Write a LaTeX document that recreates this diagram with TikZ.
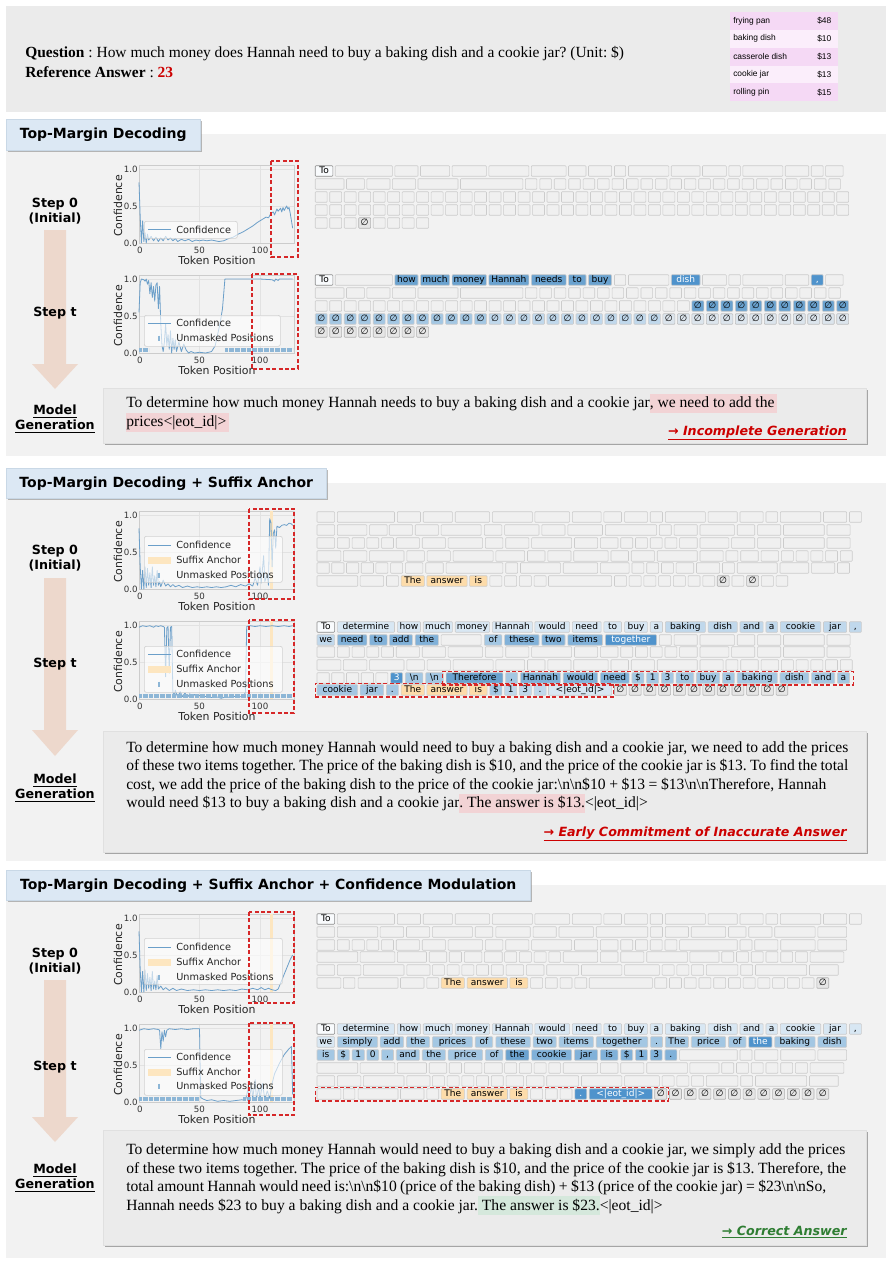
\documentclass[tikz,border=0pt]{standalone}
\usepackage{fontspec}
\setmainfont{Liberation Serif}
\newfontfamily\dvs{DejaVu Sans}
\newfontfamily\lsans{Liberation Sans}
\usetikzlibrary{fit,shadows}
\frenchspacing
\definecolor{topbg}{HTML}{EBEBEB}
\definecolor{panelbg}{HTML}{F2F2F2}
\definecolor{tabc}{HTML}{DCE8F4}
\definecolor{tabd}{HTML}{C9D8E6}
\definecolor{genbg}{HTML}{EBEBEB}
\definecolor{arrowc}{HTML}{EDD8CC}
\definecolor{hlred}{HTML}{F2D3D5}
\definecolor{hlgreen}{HTML}{D5E8DC}
\definecolor{redc}{HTML}{CC0000}
\definecolor{greenc}{HTML}{2E7D32}
\definecolor{curvec}{HTML}{6B9FC9}
\definecolor{rugc}{HTML}{8DB6D6}
\definecolor{anchorc}{HTML}{FDE6C0}
\definecolor{dashred}{HTML}{D62728}
\definecolor{pkA}{HTML}{F5D9F5}
\definecolor{pkB}{HTML}{FBEEFB}
\definecolor{tokE}{HTML}{F0F0F0}
\definecolor{tokEd}{HTML}{CCCCCC}
\definecolor{tokW}{HTML}{F9FBFD}
\definecolor{tokL1}{HTML}{D8E7F3}
\definecolor{tokL2}{HTML}{C0D8EC}
\definecolor{tokL3}{HTML}{A3C7E3}
\definecolor{tokL4}{HTML}{80B1D9}
\definecolor{tokD}{HTML}{6AA2CF}
\definecolor{tokDW}{HTML}{4F93CC}
\definecolor{tokO}{HTML}{FDDCAA}
\definecolor{tokN}{HTML}{E6E6E6}
\definecolor{tokN2}{HTML}{DCE5ED}
\definecolor{gridc}{HTML}{E2E2E2}
\definecolor{framec}{HTML}{CCCCCC}
\newcommand\cma{,}
\newcommand\hlr[1]{{\fboxsep=0pt\colorbox{hlred}{\rule[-4pt]{0pt}{14.5pt}#1}}}
\newcommand\hlg[1]{{\fboxsep=0pt\colorbox{hlgreen}{\rule[-4pt]{0pt}{14.5pt}#1}}}
\newcommand\fitw[2]{\makebox[#1pt][s]{#2}}
\tikzset{
 tok/.style={draw, rounded corners=0.6pt, line width=0.45pt, inner xsep=0.5pt, inner ysep=0pt,
   minimum height=7.9pt, text height=5pt, text depth=1.4pt, font=\dvs\fontsize{6.8}{7.5}\selectfont},
 tE/.style={fill=tokE, draw=tokEd},
 tW/.style={fill=tokW, draw=black!45},
 tL1/.style={fill=tokL1, draw=tokEd},
 tL2/.style={fill=tokL2, draw=tokEd},
 tL3/.style={fill=tokL3, draw=tokEd},
 tL4/.style={fill=tokL4, draw=tokEd},
 tD/.style={fill=tokD, draw=tokEd},
 tDW/.style={fill=tokDW, draw=tokEd, text=white},
 tO/.style={fill=tokO, draw=tokEd},
 tN/.style={fill=tokN, draw=black!30},
 tN2/.style={fill=tokN2, draw=black!25},
 reddash/.style={draw=dashred, dash pattern=on 3pt off 1.8pt, line width=0.9pt},
 tabbox/.style={fill=tabc, draw=tabd, inner sep=0pt, font=\dvs\bfseries\fontsize{10.5}{12}\selectfont,
   drop shadow={shadow xshift=1.5pt,shadow yshift=-1.5pt,fill=black!45,opacity=0.6}},
 genbox/.style={fill=genbg, draw=black!12, inner sep=0pt,
   drop shadow={shadow xshift=1.5pt,shadow yshift=-1.5pt,fill=black!55,opacity=0.6}},
 gent/.style={anchor=base west, inner sep=0pt, font=\fontsize{11.7}{13.5}\selectfont},
 qtext/.style={anchor=base west, inner sep=0pt, font=\fontsize{11.6}{13}\selectfont},
 steplab/.style={align=center, inner sep=0pt, font=\dvs\bfseries\fontsize{9.5}{11.3}\selectfont},
 reslab/.style={anchor=base east, inner sep=0pt, font=\dvs\bfseries\itshape\fontsize{9.5}{11}\selectfont},
 tabtext/.style={inner sep=0pt, font=\lsans\fontsize{6.3}{7}\selectfont},
 tick/.style={inner sep=0pt, text=black!80, font=\dvs\fontsize{6.5}{7}\selectfont},
 axl/.style={inner sep=0pt, text=black!85, font=\dvs\fontsize{8.2}{9}\selectfont},
 lgtext/.style={anchor=west, inner sep=0pt, text=black!85, font=\dvs\fontsize{7.3}{8}\selectfont},
 lgbox/.style={anchor=north west, draw=black!18, fill=white, fill opacity=0.6, rounded corners=1.5pt, line width=0.5pt, inner sep=0pt},
 curve/.style={draw=curvec, line width=0.6pt, line join=round},
 rug/.style={draw=rugc, line width=3pt, dash pattern=on 0.4pt off 0.5075pt},
 gridl/.style={draw=gridc, line width=0.5pt},
 framel/.style={draw=framec, line width=0.6pt},
}
\newcommand\tokrow[3]{\foreach \a/\b/\l/\s [count=\i] in {#3} {%
  \node[tok,\s,minimum width={(\b-\a)*0.2631pt}] (#1-\i) at ({310+(\a+\b)/5.702},#2) {\l};}}
\newcommand\unirow[9]{\foreach \k in {#6,...,#7} {%
  \node[tok,#8,minimum width={#5*0.2631pt}] (#1-\k) at ({310+(#3+#4*(\k-1)+#5/2)/2.851},#2) {#9};}}
\newcommand\plotaxes[2]{%
  \draw[gridl] (199.5,#2) -- (199.5,#2-78) (260,#2) -- (260,#2-78) (139,#2-37) -- (294,#2-37) (139,#2-74) -- (294,#2-74);
  \draw[framel] (139,#2-78) rectangle (294,#2);
  \node[tick,anchor=east] (#1-y0) at (138,#2) {0.0};
  \node[tick,anchor=east] (#1-y5) at (138,#2-37) {0.5};
  \node[tick,anchor=east] (#1-y1) at (138,#2-74) {1.0};
  \node[tick] (#1-x0) at (140,#2+7) {0};
  \node[tick] (#1-x50) at (199.5,#2+7) {50};
  \node[tick] (#1-x100) at (260,#2+7) {100};
  \node[axl,rotate=90] (#1-yl) at (118,#2-37) {Confidence};
  \node[axl] (#1-xl) at (217,#2+17) {Token Position};}
\newcommand\lgline[3]{\draw[curve] (148,#2) -- (171,#2); \node[lgtext] (#1) at (176,#2) {#3};}
\newcommand\lgband[3]{\fill[anchorc] (148,#2-3.5) rectangle (171,#2+3.5); \node[lgtext] (#1) at (176,#2) {#3};}
\newcommand\lgrug[3]{\draw[rugc,line width=0.8pt] (159,#2-2.5) -- (159,#2+2.5); \node[lgtext] (#1) at (176,#2) {#3};}
\begin{document}
\begin{tikzpicture}[x=0.75pt,y=-0.75pt]
\useasboundingbox (0,0) rectangle (892,1265);
\fill[white] (0,0) rectangle (892,1265);
% ---------------- top question panel
\fill[topbg] (6,6) rectangle (886,112);
\node[qtext] (q1) at (25,57) {\textbf{Question} : How much money does Hannah need to buy a baking dish and a cookie jar? (Unit: \$)};
\node[qtext] (q2) at (25,77) {\textbf{Reference Answer} : \textcolor{redc}{\textbf{23}}};
\foreach \nm/\pr/\cl [count=\i] in {frying pan/\$48/pkA, baking dish/\$10/pkB, casserole dish/\$13/pkA, cookie jar/\$13/pkB, rolling pin/\$15/pkA} {
  \node[fill=\cl, minimum width=81pt, minimum height=13.35pt, inner sep=0pt, anchor=north west] (tb\i) at (730,{12+17.8*(\i-1)}) {};
  \node[tabtext,anchor=west] (tbn\i) at (733,{21+17.8*(\i-1)}) {\nm};
  \node[tabtext,anchor=west] (tbp\i) at (817,{21+17.8*(\i-1)}) {\pr};
}
% ================= SECTION 1
\fill[panelbg] (6,134) rectangle (886,456);
\node[tabbox, minimum width=145.5pt, minimum height=23.25pt, anchor=north west] (tab1) at (6,119) {Top-Margin Decoding};
\node[steplab] (s1st0) at (55,211) {Step 0\\(Initial)};
\fill[arrowc] (44,230) -- (66,230) -- (66,364) -- (78,364) -- (55,389) -- (32,364) -- (44,364) -- cycle;
\node[steplab,anchor=west] (s1stt) at (33,313) {Step t};
\node[steplab] (s1mg) at (55,419) {\underline{Model}\\\underline{Generation}};
% plot 1a
\plotaxes{p1a}{243}
\begin{scope}[shift={(139,243)},x=0.9075pt,y=55.5pt]
\draw[curve] plot coordinates {(0,0.82) (1,0.35) (2,0) (3,0.3) (4,0.02) (5,0.14) (6,0) (7,0.12) (8,0.04) (10,0.09) (12,0.03) (14,0.08) (16,0.02) (18,0.07) (20,0.03) (22,0.09) (24,0.04) (26,0.07) (28,0.03) (30,0.06) (32,0.02) (35,0.05) (38,0.03) (41,0.05) (44,0.02) (47,0.04) (50,0.03) (53,0.04) (56,0.03) (60,0.04) (63,0.03) (66,0.02) (70,0.03) (74,0.06) (78,0.08) (82,0.12) (86,0.15) (90,0.19) (94,0.23) (98,0.28) (102,0.32) (105,0.35) (107,0.34) (109,0.4) (111,0.42) (112,0.38) (114,0.46) (115,0.43) (117,0.47) (118,0.42) (119,0.48) (120,0.44) (122,0.5) (123,0.46) (124,0.48) (125,0.4) (126,0.3) (127,0.2)};
\end{scope}
\node[lgbox, minimum width=69.75pt, minimum height=12.75pt] (p1a-lg) at (144,221) {};
\lgline{p1a-l1}{229.5}{Confidence}
\draw[reddash] (271,161) rectangle (298,257);
% plot 1b
\plotaxes{p1b}{353}
\begin{scope}[shift={(139,353)},x=0.9075pt,y=55.5pt]
\draw[curve] plot coordinates {(0,0.55) (1,0.95) (2,1.0) (4,0.99) (5,0.97) (6,1.0) (7,0.93) (8,0.98) (9,0.8) (10,0.95) (11,0.75) (12,0.9) (13,0.7) (14,0.92) (15,0.95) (16,0.6) (17,0.9) (18,0.4) (19,0.1) (20,0.02) (21,0.15) (22,0.4) (23,0.1) (24,0.25) (25,0.05) (26,0.3) (27,0.0) (28,0.2) (29,0.05) (30,0.18) (31,0.02) (33,0.15) (35,0.02) (37,0.12) (39,0.04) (41,0.0) (43,0.02) (46,0.0) (50,0.01) (55,0.0) (60,0.02) (63,0.1) (65,0.25) (67,0.4) (69,0.6) (70,0.8) (71,1.0) (80,1.0) (90,1.0) (100,1.0) (110,0.99) (112,0.97) (113,1.0) (115,0.98) (116,1.0) (127,1.0)};
\draw[rug] (0,0.035) -- (8,0.035) (71,0.035) -- (127,0.035);
\end{scope}
\node[lgbox, minimum width=102pt, minimum height=23.25pt] (p1b-lg) at (144,315) {};
\lgline{p1b-l1}{323}{Confidence}
\lgrug{p1b-l2}{338}{Unmasked Positions}
\draw[reddash] (252,274) rectangle (298,369);
% grid 1a (step 0)
\tokrow{s1a1}{171}{15/65/To/tW, 72/235/{}/tE, 242/308/{}/tE, 315/398/{}/tE, 405/503/{}/tE, 510/624/{}/tE, 631/730/{}/tE, 737/787/{}/tE, 794/860/{}/tE, 868/900/{}/tE, 908/1023/{}/tE, 1030/1112/{}/tE, 1119/1187/{}/tE, 1194/1227/{}/tE, 1234/1348/{}/tE, 1355/1422/{}/tE, 1429/1463/{}/tE, 1470/1520/{}/tE}
\tokrow{s1a2}{184}{15/97/{}/tE, 104/155/{}/tE, 162/228/{}/tE, 235/301/{}/tE, 308/422/{}/tE, 429/607/{}/tE}
\unirow{s1a2u}{184}{614}{41.2}{33}{1}{22}{tE}{}
\unirow{s1a3}{197}{15}{41.3}{34}{1}{37}{tE}{}
\unirow{s1a4}{210}{15}{41.3}{34}{1}{37}{tE}{}
\unirow{s1a5}{223}{15}{41.3}{34}{1}{3}{tE}{}
\unirow{s1a5}{223}{15}{41.3}{34}{4}{4}{tN}{∅}
\unirow{s1a5}{223}{15}{41.3}{34}{5}{8}{tE}{}
% grid 1b (step t)
\tokrow{s1b1}{280}{15/65/To/tW, 72/235/{}/tE, 242/308/how/tD, 315/398/much/tD, 405/503/money/tD, 510/624/Hannah/tD, 631/730/needs/tD, 737/787/to/tD, 794/860/buy/tD, 868/900/{}/tE, 908/1023/{}/tE, 1030/1112/dish/tDW, 1119/1187/{}/tE, 1194/1227/{}/tE, 1234/1348/{}/tE, 1355/1422/{}/tE, 1429/1463/\cma/tDW, 1470/1520/{}/tE}
\tokrow{s1b2}{293}{15/97/{}/tE, 104/155/{}/tE, 162/228/{}/tE, 235/301/{}/tE, 308/422/{}/tE, 429/607/{}/tE}
\unirow{s1b2u}{293}{614}{41.2}{33}{1}{22}{tE}{}
\unirow{s1b3}{306}{15}{41.3}{34}{1}{26}{tE}{}
\unirow{s1b3}{306}{15}{41.3}{34}{27}{37}{tD}{∅}
\unirow{s1b4}{319}{15}{41.3}{34}{1}{12}{tL3}{∅}
\unirow{s1b4}{319}{15}{41.3}{34}{13}{24}{tL2}{∅}
\unirow{s1b4}{319}{15}{41.3}{34}{25}{37}{tN2}{∅}
\unirow{s1b5}{332}{15}{41.3}{34}{1}{8}{tN}{∅}
% generation 1
\node[genbox, minimum width=572.25pt, minimum height=41.25pt, anchor=north west] (gen1) at (103,388) {};
\node[gent] (g1l1) at (126,407.5) {To determine how much money Hannah needs to buy a baking dish and a cookie jar\hlr{, we need to add the\,}};
\node[gent] (g1l2) at (126,426.5) {\hlr{prices<|eot\_id|>\,}};
\node[reslab,text=redc] (res1) at (847,435) {\underline{→ Incomplete Generation}};
% ================= SECTION 2
\fill[panelbg] (6,483) rectangle (886,861);
\node[tabbox, minimum width=240pt, minimum height=22.5pt, anchor=north west] (tab2) at (6,468) {Top-Margin Decoding + Suffix Anchor};
\node[steplab] (s2st0) at (55,558) {Step 0\\(Initial)};
\fill[arrowc] (44,578) -- (66,578) -- (66,730) -- (78,730) -- (55,756) -- (32,730) -- (44,730) -- cycle;
\node[steplab,anchor=west] (s2stt) at (33,664) {Step t};
\node[steplab] (s2mg) at (55,788) {\underline{Model}\\\underline{Generation}};
% plot 2a
\plotaxes{p2a}{589}
\begin{scope}[shift={(139,589)},x=0.9075pt,y=55.5pt]
\fill[anchorc] (108,0) rectangle (111,1.05);
\draw[curve] plot coordinates {(0,0.82) (1,0.3) (2,0) (3,0.25) (4,0) (5,0.3) (6,0.02) (7,0.28) (8,0.05) (9,0.22) (10,0.02) (11,0.3) (12,0.05) (13,0.18) (14,0.03) (15,0.25) (16,0.05) (17,0.1) (18,0.03) (20,0.12) (22,0.04) (24,0.07) (26,0.03) (28,0.06) (30,0.03) (33,0.05) (36,0.02) (40,0.04) (44,0.02) (48,0.03) (52,0.02) (56,0.03) (60,0.02) (64,0.03) (68,0.02) (72,0.03) (76,0.05) (80,0.03) (84,0.06) (88,0.04) (91,0.07) (94,0.04) (96,0.15) (98,0.05) (100,0.3) (101,0.08) (103,0.45) (104,0.1) (106,0.2) (107,0.05) (108,0.95) (109,0.9) (110,0.3) (111,0.75) (112,0.8) (113,0.55) (114,0.85) (116,0.83) (118,0.86) (120,0.87) (122,0.86) (124,0.89) (126,0.88) (127,0.86)};
\end{scope}
\node[lgbox, minimum width=103.5pt, minimum height=34.5pt] (p2a-lg) at (144,536) {};
\lgline{p2a-l1}{545}{Confidence}
\lgband{p2a-l2}{560}{Suffix Anchor}
\lgrug{p2a-l3}{575}{Unmasked Positions}
\draw[reddash] (249,509) rectangle (294,599);
% plot 2b
\plotaxes{p2b}{699}
\begin{scope}[shift={(139,699)},x=0.9075pt,y=55.5pt]
\fill[anchorc] (108,0) rectangle (111,1.05);
\draw[curve] plot coordinates {(0,0.97) (3,0.99) (6,0.98) (9,0.99) (12,0.97) (14,0.99) (16,0.98) (18,0.99) (20,0.98) (21,0.97) (22,0.3) (23,0.96) (24,0.98) (25,0.35) (26,0.97) (27,0.98) (28,0.1) (29,0.03) (30,0.12) (32,0.02) (34,0.1) (36,0.03) (38,0.08) (40,0.02) (42,0.07) (44,0.03) (46,0.06) (48,0.02) (50,0.05) (53,0.02) (56,0.04) (60,0.02) (64,0.03) (68,0.01) (72,0.03) (76,0.02) (80,0.04) (84,0.03) (87,0.05) (88,0.1) (89,0.98) (92,0.99) (96,0.98) (100,0.99) (105,0.98) (110,0.99) (115,0.98) (120,0.99) (124,0.98) (127,0.99)};
\draw[rug] (0,0.035) -- (127,0.035);
\end{scope}
\node[lgbox, minimum width=103.5pt, minimum height=34.5pt] (p2b-lg) at (144,646) {};
\lgline{p2b-l1}{654}{Confidence}
\lgband{p2b-l2}{669}{Suffix Anchor}
\lgrug{p2b-l3}{684}{Unmasked Positions}
\draw[reddash] (249,620) rectangle (294,713);
% grid 2a
\tokrow{s2a1}{517}{20/70/{}/tE, 78/241/{}/tE, 249/315/{}/tE, 323/406/{}/tE, 414/512/{}/tE, 520/634/{}/tE, 641/740/{}/tE, 748/830/{}/tE, 838/888/{}/tE, 897/962/{}/tE, 970/1005/{}/tE, 1013/1127/{}/tE, 1135/1218/{}/tE, 1226/1292/{}/tE, 1300/1333/{}/tE, 1341/1456/{}/tE, 1464/1530/{}/tE, 1538/1572/{}/tE}
\tokrow{s2a2}{530}{20/70/{}/tE, 78/162/{}/tE, 170/220/{}/tE, 226/292/{}/tE, 300/366/{}/tE, 374/488/{}/tE, 497/547/{}/tE, 555/653/{}/tE, 661/727/{}/tE, 735/834/{}/tE, 842/988/{}/tE, 996/1030/{}/tE, 1038/1104/{}/tE, 1112/1210/{}/tE, 1218/1268/{}/tE, 1276/1342/{}/tE, 1350/1466/{}/tE, 1474/1540/{}/tE}
\tokrow{s2a3}{543}{20/70/{}/tE, 78/112/{}/tE, 120/155/{}/tE, 162/196/{}/tE, 204/238/{}/tE, 246/312/{}/tE, 320/386/{}/tE, 394/492/{}/tE, 500/550/{}/tE, 558/624/{}/tE, 632/746/{}/tE, 754/820/{}/tE, 828/878/{}/tE, 886/920/{}/tE, 928/962/{}/tE, 970/1004/{}/tE, 1012/1046/{}/tE, 1054/1104/{}/tE, 1112/1194/{}/tE, 1202/1268/{}/tE, 1276/1342/{}/tE, 1350/1466/{}/tE, 1474/1540/{}/tE}
\tokrow{s2a4}{556}{20/88/{}/tE, 95/162/{}/tE, 170/268/{}/tE, 276/326/{}/tE, 334/400/{}/tE, 408/522/{}/tE, 530/612/{}/tE, 620/670/{}/tE, 678/744/{}/tE, 752/850/{}/tE, 858/908/{}/tE, 916/982/{}/tE, 990/1104/{}/tE, 1112/1178/{}/tE, 1186/1220/{}/tE, 1228/1278/{}/tE, 1286/1336/{}/tE, 1344/1378/{}/tE, 1386/1420/{}/tE, 1428/1462/{}/tE, 1470/1504/{}/tE, 1512/1546/{}/tE}
\tokrow{s2a5}{568}{20/55/{}/tE, 62/97/{}/tE, 104/139/{}/tE, 146/181/{}/tE, 188/222/{}/tE, 230/264/{}/tE, 272/322/{}/tE, 330/380/{}/tE, 388/550/{}/tE, 558/592/{}/tE, 600/714/{}/tE, 722/820/{}/tE, 828/910/{}/tE, 918/952/{}/tE, 960/994/{}/tE, 1002/1036/{}/tE, 1044/1094/{}/tE, 1102/1168/{}/tE, 1176/1210/{}/tE, 1218/1332/{}/tE, 1340/1422/{}/tE, 1430/1496/{}/tE, 1504/1538/{}/tE}
\tokrow{s2a6}{581}{20/136/{}/tE, 143/210/{}/tE, 218/252/{}/tE, 260/326/The/tO, 333/448/answer/tO, 455/505/is/tO, 513/547/{}/tE, 555/589/{}/tE, 597/631/{}/tE, 639/673/{}/tE, 680/860/{}/tE, 868/902/{}/tE, 910/944/{}/tE, 952/986/{}/tE, 994/1028/{}/tE, 1036/1070/{}/tE, 1078/1112/{}/tE, 1120/1154/{}/tE, 1161/1195/∅/tN, 1203/1237/{}/tE, 1245/1279/∅/tN, 1287/1321/{}/tE, 1329/1362/{}/tE}
% grid 2b
\tokrow{s2b1}{627}{20/70/To/tW, 78/241/determine/tL1, 249/315/how/tL1, 323/406/much/tL1, 414/512/money/tL1, 520/634/Hannah/tL1, 641/740/would/tL1, 748/830/need/tL1, 838/888/to/tL1, 897/962/buy/tL1, 970/1005/a/tL1, 1013/1127/baking/tL2, 1135/1218/dish/tL2, 1226/1292/and/tL2, 1300/1333/a/tL2, 1341/1456/cookie/tL2, 1464/1530/jar/tL2, 1538/1572/\cma/tL2}
\tokrow{s2b2}{640}{20/70/we/tL2, 78/162/need/tL4, 170/220/to/tL4, 226/292/add/tL4, 300/366/the/tL4, 374/488/{}/tE, 497/547/of/tL3, 555/653/these/tL4, 661/727/two/tL4, 735/834/items/tL4, 842/988/together/tDW, 996/1030/{}/tE, 1038/1104/{}/tE, 1112/1210/{}/tE, 1218/1268/{}/tE, 1276/1342/{}/tE, 1350/1466/{}/tE, 1474/1540/{}/tE}
\tokrow{s2b3}{652}{20/70/{}/tE, 78/112/{}/tE, 120/155/{}/tE, 162/196/{}/tE, 204/238/{}/tE, 246/312/{}/tE, 320/386/{}/tE, 394/492/{}/tE, 500/550/{}/tE, 558/624/{}/tE, 632/746/{}/tE, 754/820/{}/tE, 828/878/{}/tE, 886/920/{}/tE, 928/962/{}/tE, 970/1004/{}/tE, 1012/1046/{}/tE, 1054/1104/{}/tE, 1112/1194/{}/tE, 1202/1268/{}/tE, 1276/1342/{}/tE, 1350/1466/{}/tE, 1474/1540/{}/tE}
\tokrow{s2b4}{665}{20/88/{}/tE, 95/162/{}/tE, 170/268/{}/tE, 276/326/{}/tE, 334/400/{}/tE, 408/522/{}/tE, 530/612/{}/tE, 620/670/{}/tE, 678/744/{}/tE, 752/850/{}/tE, 858/908/{}/tE, 916/982/{}/tE, 990/1104/{}/tE, 1112/1178/{}/tE, 1186/1220/{}/tE, 1228/1278/{}/tE, 1286/1336/{}/tE, 1344/1378/{}/tE, 1386/1420/{}/tE, 1428/1462/{}/tE, 1470/1504/{}/tE, 1512/1546/{}/tE}
\tokrow{s2b5}{678}{20/55/{}/tE, 62/97/{}/tE, 104/139/{}/tE, 146/181/{}/tE, 188/222/{}/tE, 230/264/3/tDW, 272/322/\textbackslash n/tL3, 330/380/\textbackslash n/tL3, 388/550/Therefore/tD, 558/592/\cma/tL3, 600/714/Hannah/tL4, 722/820/would/tL4, 828/910/need/tL4, 918/952/\$/tL3, 960/994/1/tL3, 1002/1036/3/tL3, 1044/1094/to/tL3, 1102/1168/buy/tL3, 1176/1210/a/tL3, 1218/1332/baking/tL3, 1340/1422/dish/tL3, 1430/1496/and/tL3, 1504/1538/a/tL3}
\tokrow{s2b6}{690}{20/136/cookie/tL3, 143/210/jar/tL3, 218/252/./tL3, 260/326/The/tO, 333/448/answer/tO, 455/505/is/tO, 513/547/\$/tL3, 555/589/1/tL2, 597/631/3/tL2, 639/673/./tL2, 680/860/<|eot\_id|>/tL1, 868/902/∅/tN, 910/944/∅/tN, 952/986/∅/tN, 994/1028/∅/tN, 1036/1070/∅/tN, 1078/1112/∅/tN, 1120/1154/∅/tN, 1161/1195/∅/tN, 1203/1237/∅/tN, 1245/1279/∅/tN, 1287/1321/∅/tN, 1329/1362/∅/tN}
\node[reddash, inner xsep=2.5pt, inner ysep=1pt, fit=(s2b5-9)(s2b5-23)] (fit2a) {};
\node[reddash, inner sep=1pt, fit=(s2b6-1)(s2b6-11)] (fit2b) {};
% generation 2
\node[genbox, minimum width=572.25pt, minimum height=90.75pt, anchor=north west] (gen2) at (103,731) {};
\node[gent] (g2l1) at (126,752) {\fitw{541.5}{To determine how much money Hannah would need to buy a baking dish and a cookie jar, we need to add the prices}};
\node[gent] (g2l2) at (126,770.6) {\fitw{541.5}{of these two items together. The price of the baking dish is \$10, and the price of the cookie jar is \$13. To find the total}};
\node[gent] (g2l3) at (126,789.2) {\fitw{525}{cost, we add the price of the baking dish to the price of the cookie jar:\textbackslash n\textbackslash n\$10 + \$13 = \$13\textbackslash n\textbackslash nTherefore, Hannah}};
\node[gent] (g2l4) at (126,807.8) {would need \$13 to buy a baking dish and a cookie jar\hlr{. The answer is \$13.}<|eot\_id|>};
\node[reslab,text=redc] (res2) at (847,836) {\underline{→ Early Commitment of Inaccurate Answer}};
% ================= SECTION 3
\fill[panelbg] (6,885) rectangle (886,1258);
\node[tabbox, minimum width=393pt, minimum height=22.5pt, anchor=north west] (tab3) at (6,870) {Top-Margin Decoding + Suffix Anchor + Confidence Modulation};
\node[steplab] (s3st0) at (55,961) {Step 0\\(Initial)};
\fill[arrowc] (44,980) -- (66,980) -- (66,1117) -- (78,1117) -- (55,1142) -- (32,1117) -- (44,1117) -- cycle;
\node[steplab,anchor=west] (s3stt) at (33,1067) {Step t};
\node[steplab] (s3mg) at (55,1178) {\underline{Model}\\\underline{Generation}};
% plot 3a
\plotaxes{p3a}{992}
\begin{scope}[shift={(139,992)},x=0.9075pt,y=55.5pt]
\fill[anchorc] (108,0) rectangle (111,1.05);
\draw[curve] plot coordinates {(0,0.82) (1,0.3) (2,0) (3,0.28) (4,0) (5,0.3) (6,0.02) (7,0.25) (8,0.05) (9,0.2) (10,0.02) (11,0.28) (12,0.04) (13,0.15) (14,0.03) (15,0.22) (16,0.04) (18,0.08) (20,0.03) (22,0.06) (25,0.02) (28,0.05) (31,0.02) (35,0.04) (40,0.02) (45,0.03) (50,0.02) (55,0.03) (60,0.02) (65,0.03) (70,0.02) (75,0.03) (80,0.02) (85,0.04) (90,0.03) (94,0.05) (98,0.03) (101,0.06) (104,0.03) (107,0.05) (110,0.03) (113,0.02) (115,0.04) (117,0.12) (119,0.2) (121,0.28) (123,0.36) (125,0.44) (127,0.5)};
\end{scope}
\node[lgbox, minimum width=103.5pt, minimum height=34.5pt] (p3a-lg) at (144,938) {};
\lgline{p3a-l1}{947}{Confidence}
\lgband{p3a-l2}{962}{Suffix Anchor}
\lgrug{p3a-l3}{977}{Unmasked Positions}
\draw[reddash] (249,912) rectangle (294,1003);
% plot 3b
\plotaxes{p3b}{1102}
\begin{scope}[shift={(139,1102)},x=0.9075pt,y=55.5pt]
\fill[anchorc] (108,0) rectangle (111,1.05);
\draw[curve] plot coordinates {(0,0.97) (4,0.99) (8,0.98) (12,0.99) (16,0.98) (17,0.97) (18,0.72) (19,0.95) (20,0.82) (21,0.97) (22,0.88) (23,0.97) (25,0.99) (30,0.98) (35,0.99) (40,0.98) (45,0.99) (50,0.99) (51,0.06) (53,0.04) (56,0.02) (60,0.03) (65,0.01) (70,0.02) (75,0.01) (80,0.02) (85,0.03) (88,0.02) (90,0.18) (91,0.03) (93,0.22) (94,0.05) (96,0.3) (97,0.04) (99,0.2) (100,0.03) (102,0.25) (104,0.04) (106,0.15) (108,0.05) (110,0.25) (112,0.38) (114,0.45) (116,0.52) (118,0.58) (120,0.64) (122,0.68) (124,0.72) (126,0.75) (127,0.1)};
\draw[rug] (0,0.035) -- (50,0.035) (86,0.035) -- (127,0.035);
\end{scope}
\node[lgbox, minimum width=103.5pt, minimum height=34.5pt] (p3b-lg) at (144,1049) {};
\lgline{p3b-l1}{1057}{Confidence}
\lgband{p3b-l2}{1072}{Suffix Anchor}
\lgrug{p3b-l3}{1086}{Unmasked Positions}
\draw[reddash] (249,1023) rectangle (294,1115);
% grid 3a
\tokrow{s3a1}{919}{20/70/To/tW, 78/241/{}/tE, 249/315/{}/tE, 323/406/{}/tE, 414/512/{}/tE, 520/634/{}/tE, 641/740/{}/tE, 748/830/{}/tE, 838/888/{}/tE, 897/962/{}/tE, 970/1005/{}/tE, 1013/1127/{}/tE, 1135/1218/{}/tE, 1226/1292/{}/tE, 1300/1333/{}/tE, 1341/1456/{}/tE, 1464/1530/{}/tE, 1538/1572/{}/tE}
\tokrow{s3a2}{932}{20/70/{}/tE, 78/193/{}/tE, 200/267/{}/tE, 275/341/{}/tE, 349/463/{}/tE, 471/521/{}/tE, 530/628/{}/tE, 636/702/{}/tE, 710/808/{}/tE, 816/963/{}/tE, 971/1005/{}/tE, 1013/1079/{}/tE, 1087/1185/{}/tE, 1193/1243/{}/tE, 1251/1317/{}/tE, 1325/1440/{}/tE, 1448/1530/{}/tE}
\tokrow{s3a3}{945}{20/70/{}/tE, 78/112/{}/tE, 120/155/{}/tE, 162/196/{}/tE, 204/238/{}/tE, 246/312/{}/tE, 320/386/{}/tE, 394/492/{}/tE, 500/550/{}/tE, 558/624/{}/tE, 632/746/{}/tE, 754/820/{}/tE, 828/878/{}/tE, 886/920/{}/tE, 928/962/{}/tE, 970/1004/{}/tE, 1012/1046/{}/tE, 1054/1218/{}/tE, 1226/1260/{}/tE, 1268/1334/{}/tE, 1342/1440/{}/tE, 1448/1530/{}/tE}
\tokrow{s3a4}{957}{20/136/{}/tE, 143/242/{}/tE, 249/332/{}/tE, 340/390/{}/tE, 397/432/{}/tE, 440/490/{}/tE, 497/548/{}/tE, 555/589/{}/tE, 597/631/{}/tE, 639/673/{}/tE, 681/714/{}/tE, 722/820/{}/tE, 828/878/{}/tE, 886/952/{}/tE, 960/1076/{}/tE, 1083/1166/{}/tE, 1174/1208/{}/tE, 1216/1250/{}/tE, 1258/1292/{}/tE, 1300/1334/{}/tE, 1342/1376/{}/tE, 1384/1418/{}/tE, 1426/1522/{}/tE}
\tokrow{s3a5}{970}{20/70/{}/tE, 78/145/{}/tE, 152/268/{}/tE, 276/342/{}/tE, 349/383/{}/tE, 391/425/{}/tE, 433/467/{}/tE, 475/509/{}/tE, 517/551/{}/tE, 559/609/{}/tE, 617/667/{}/tE, 675/766/{}/tE, 774/889/{}/tE, 897/996/{}/tE, 1004/1038/{}/tE, 1046/1080/{}/tE, 1088/1122/{}/tE, 1130/1220/{}/tE, 1228/1262/{}/tE, 1270/1416/{}/tE, 1424/1506/{}/tE}
\tokrow{s3a6}{983}{20/88/{}/tE, 95/128/{}/tE, 137/251/{}/tE, 258/325/{}/tE, 333/367/{}/tE, 374/440/The/tO, 448/563/answer/tO, 570/621/is/tO, 629/663/{}/tE, 671/705/{}/tE, 713/747/{}/tE, 755/789/{}/tE, 796/976/{}/tE, 983/1017/{}/tE, 1025/1059/{}/tE, 1067/1101/{}/tE, 1109/1143/{}/tE, 1151/1185/{}/tE, 1193/1227/{}/tE, 1235/1269/{}/tE, 1277/1311/{}/tE, 1319/1353/{}/tE, 1361/1395/{}/tE, 1403/1437/{}/tE, 1445/1479/∅/tN}
% grid 3b
\tokrow{s3b1}{1029}{20/70/To/tW, 78/241/determine/tL1, 249/315/how/tL1, 323/406/much/tL1, 414/512/money/tL1, 520/634/Hannah/tL1, 641/740/would/tL1, 748/830/need/tL1, 838/888/to/tL1, 897/962/buy/tL1, 970/1005/a/tL1, 1013/1127/baking/tL1, 1135/1218/dish/tL1, 1226/1292/and/tL1, 1300/1333/a/tL1, 1341/1456/cookie/tL1, 1464/1530/jar/tL1, 1538/1572/\cma/tL1}
\tokrow{s3b2}{1042}{20/70/we/tL1, 78/193/simply/tL3, 200/267/add/tL3, 275/341/the/tL3, 349/463/prices/tL3, 471/521/of/tL3, 530/628/these/tL3, 636/702/two/tL3, 710/808/items/tL3, 816/963/together/tL3, 971/1005/./tL3, 1013/1079/The/tL3, 1087/1185/price/tL3, 1193/1243/of/tL3, 1251/1317/the/tDW, 1325/1440/baking/tL3, 1448/1530/dish/tL3}
\tokrow{s3b3}{1055}{20/70/is/tL3, 78/112/\$/tL3, 120/155/1/tL3, 162/196/0/tL3, 204/238/\cma/tL3, 246/312/and/tL3, 320/386/the/tL3, 394/492/price/tL3, 500/550/of/tL3, 558/624/the/tD, 632/746/cookie/tL4, 754/820/jar/tL4, 828/878/is/tL4, 886/920/\$/tL4, 928/962/1/tL4, 970/1004/3/tL4, 1012/1046/./tL4, 1054/1218/{}/tE, 1226/1260/{}/tE, 1268/1334/{}/tE, 1342/1440/{}/tE, 1448/1530/{}/tE}
\tokrow{s3b4}{1068}{20/136/{}/tE, 143/242/{}/tE, 249/332/{}/tE, 340/390/{}/tE, 397/432/{}/tE, 440/490/{}/tE, 497/548/{}/tE, 555/589/{}/tE, 597/631/{}/tE, 639/673/{}/tE, 681/714/{}/tE, 722/820/{}/tE, 828/878/{}/tE, 886/952/{}/tE, 960/1076/{}/tE, 1083/1166/{}/tE, 1174/1208/{}/tE, 1216/1250/{}/tE, 1258/1292/{}/tE, 1300/1334/{}/tE, 1342/1376/{}/tE, 1384/1418/{}/tE, 1426/1522/{}/tE}
\tokrow{s3b5}{1081}{20/70/{}/tE, 78/145/{}/tE, 152/268/{}/tE, 276/342/{}/tE, 349/383/{}/tE, 391/425/{}/tE, 433/467/{}/tE, 475/509/{}/tE, 517/551/{}/tE, 559/609/{}/tE, 617/667/{}/tE, 675/766/{}/tE, 774/889/{}/tE, 897/996/{}/tE, 1004/1038/{}/tE, 1046/1080/{}/tE, 1088/1122/{}/tE, 1130/1220/{}/tE, 1228/1262/{}/tE, 1270/1416/{}/tE, 1424/1506/{}/tE}
\tokrow{s3b6}{1094}{20/88/{}/tE, 95/128/{}/tE, 137/251/{}/tE, 258/325/{}/tE, 333/367/{}/tE, 374/440/The/tO, 448/563/answer/tO, 570/621/is/tO, 629/663/{}/tE, 671/705/{}/tE, 713/747/{}/tE, 755/789/./tDW, 796/976/<|eot\_id|>/tDW, 983/1017/∅/tN, 1025/1059/∅/tN, 1067/1101/∅/tN, 1109/1143/∅/tN, 1151/1185/∅/tN, 1193/1227/∅/tN, 1235/1269/∅/tN, 1277/1311/∅/tN, 1319/1353/∅/tN, 1361/1395/∅/tN, 1403/1437/∅/tN, 1445/1479/∅/tN}
\node[reddash, inner sep=1pt, fit=(s3b6-1)(s3b6-14)] (fit3) {};
% generation 3
\node[genbox, minimum width=572.25pt, minimum height=86.25pt, anchor=north west] (gen3) at (103,1130) {};
\node[gent] (g3l1) at (126,1154) {\fitw{539.25}{To determine how much money Hannah would need to buy a baking dish and a cookie jar, we simply add the prices}};
\node[gent] (g3l2) at (126,1173) {\fitw{540}{of these two items together. The price of the baking dish is \$10, and the price of the cookie jar is \$13. Therefore, the}};
\node[gent] (g3l3) at (126,1191.5) {\fitw{525}{total amount Hannah would need is:\textbackslash n\textbackslash n\$10 (price of the baking dish) + \$13 (price of the cookie jar) = \$23\textbackslash n\textbackslash nSo,}};
\node[gent] (g3l4) at (126,1210) {Hannah needs \$23 to buy a baking dish and a cookie jar.\hlg{ The answer is \$23.}<|eot\_id|>};
\node[reslab,text=greenc] (res3) at (847,1235) {\underline{→ Correct Answer}};
\end{tikzpicture}
\end{document}
